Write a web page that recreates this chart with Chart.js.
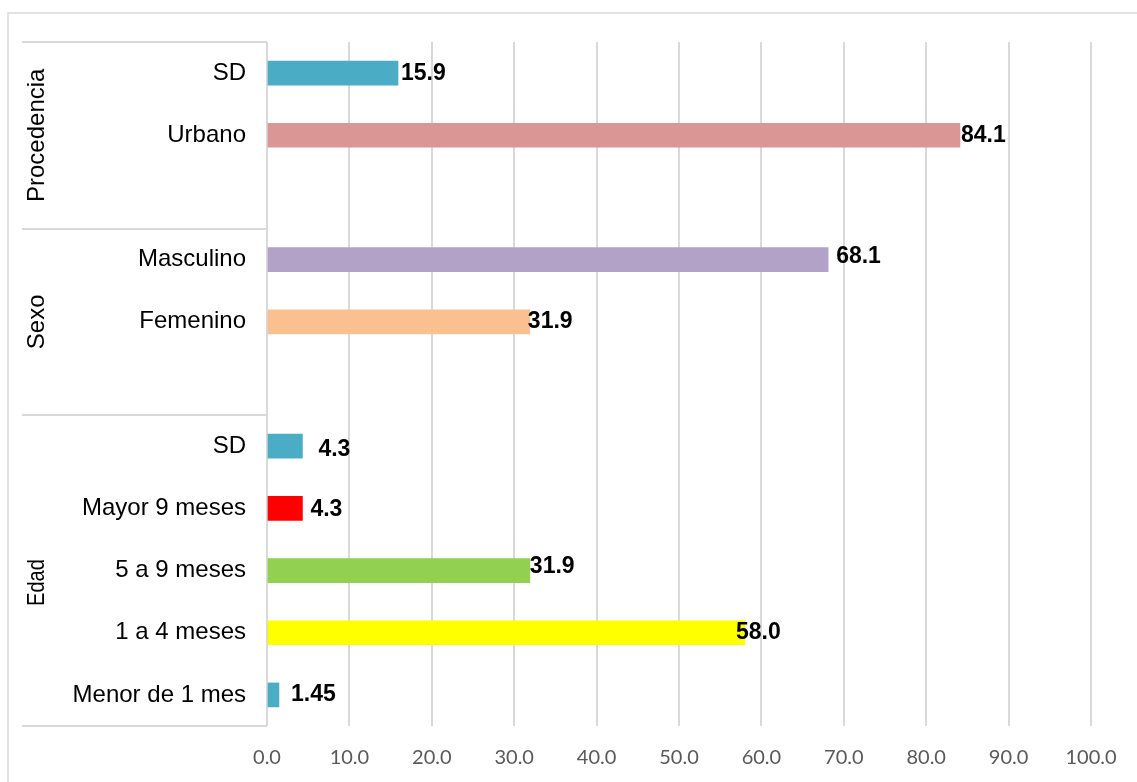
<!DOCTYPE html>
<html>
<head>
<meta charset="utf-8">
<title>Procedencia, Sexo y Edad</title>
<script src="https://cdn.jsdelivr.net/npm/chart.js@4/dist/chart.umd.min.js"></script>
<style>
  html, body { margin: 0; padding: 0; background: #ffffff; }
  #wrap { width: 1137px; height: 782px; position: relative; }
</style>
</head>
<body>
<div id="wrap"><canvas id="chart" width="1137" height="782"></canvas></div>
<script>
// Row labels, top to bottom (empty rows separate the groups)
const categories = [
  'SD', 'Urbano', '',
  'Masculino', 'Femenino', '',
  'SD', 'Mayor 9 meses', '5 a 9 meses', '1 a 4 meses', 'Menor de 1 mes'
];
// Percentages per row
const values = [15.9, 84.1, null, 68.1, 31.9, null, 4.3, 4.3, 31.9, 58.0, 1.45];
// Text shown next to each bar
const valueLabels = ['15.9', '84.1', '', '68.1', '31.9', '', '4.3', '4.3', '31.9', '58.0', '1.45'];
// Group names and the row ranges they span
const groupNames = ['Procedencia', 'Sexo', 'Edad'];
const groupFirstRow = [0, 3, 6];
const groupLastRow = [2, 5, 10];
// X axis ticks
const xTicks = [0, 10, 20, 30, 40, 50, 60, 70, 80, 90, 100];

// Styling
const barColors = ['#4bacc6', '#d99694', '#ffffff', '#b3a2c7', '#fac090', '#ffffff',
                   '#4bacc6', '#ff0000', '#92d050', '#ffff00', '#4bacc6'];
const labelDx = [3, 1, 0, 8, -2, 0, 16, 8, 0, -9, 12];
const labelDy = [1, 0, 0, -3, 0, 0, 3, 1, -4, 0, 0];
const lineGray = '#d9d9d9';

// Value labels at the end of each bar
const valueLabelPlugin = {
  id: 'valueLabels',
  afterDatasetsDraw(chart) {
    const ctx = chart.ctx;
    const meta = chart.getDatasetMeta(0);
    ctx.save();
    ctx.font = 'bold 23px "Liberation Sans", Arial, sans-serif';
    ctx.fillStyle = '#000000';
    ctx.textAlign = 'left';
    ctx.textBaseline = 'middle';
    meta.data.forEach((bar, i) => {
      if (values[i] === null || !valueLabels[i]) return;
      ctx.fillText(valueLabels[i], bar.x + labelDx[i], bar.y + labelDy[i]);
    });
    ctx.restore();
  }
};

// Frame, group separators and rotated group names on the left
const groupPlugin = {
  id: 'groups',
  beforeDraw(chart) {
    const ctx = chart.ctx;
    ctx.save();
    ctx.strokeStyle = lineGray;
    ctx.lineWidth = 1.5;
    ctx.beginPath();
    ctx.moveTo(8, 782);
    ctx.lineTo(8, 13);
    ctx.lineTo(1137, 13);
    ctx.stroke();
    ctx.restore();
  },
  afterDraw(chart) {
    const ctx = chart.ctx;
    const y = chart.scales.y;
    const area = chart.chartArea;
    const half = (y.getPixelForValue(1) - y.getPixelForValue(0)) / 2;
    ctx.save();
    ctx.strokeStyle = lineGray;
    ctx.lineWidth = 2;
    const bounds = [area.top];
    groupLastRow.forEach((r, g) => {
      bounds.push(g === groupLastRow.length - 1 ? area.bottom : y.getPixelForValue(r) + half);
    });
    ctx.beginPath();
    bounds.forEach(b => {
      const yy = Math.round(b);
      ctx.moveTo(22, yy);
      ctx.lineTo(area.left, yy);
    });
    ctx.stroke();

    ctx.fillStyle = '#000000';
    ctx.font = '24px "Liberation Sans", Arial, sans-serif';
    ctx.textAlign = 'center';
    ctx.textBaseline = 'middle';
    groupNames.forEach((name, g) => {
      const top = y.getPixelForValue(groupFirstRow[g]) - half;
      const bottom = y.getPixelForValue(groupLastRow[g]) + half;
      let cy = (top + bottom) / 2;
      if (name === 'Edad') cy += 12;
      ctx.save();
      ctx.translate(37, cy);
      ctx.rotate(-Math.PI / 2);
      if (name === 'Edad') ctx.fillText(name, 0, 0, 47);
      else ctx.fillText(name, 0, 0);
      ctx.restore();
    });
    ctx.restore();
  }
};

new Chart(document.getElementById('chart'), {
  type: 'bar',
  data: {
    labels: categories,
    datasets: [{
      data: values,
      backgroundColor: barColors,
      borderWidth: 0,
      barThickness: 24
    }]
  },
  options: {
    indexAxis: 'y',
    responsive: false,
    devicePixelRatio: 1,
    animation: false,
    layout: { padding: { top: 42, right: 46, left: 0, bottom: 0 } },
    plugins: {
      legend: { display: false },
      tooltip: { enabled: false }
    },
    scales: {
      x: {
        type: 'linear',
        min: 0,
        max: 100,
        afterBuildTicks(scale) {
          scale.ticks = xTicks.map(v => ({ value: v }));
        },
        afterFit(scale) { scale.height = 56; },
        grid: { color: lineGray, lineWidth: 2, drawTicks: false },
        border: { display: false },
        ticks: {
          padding: 20,
          color: '#595959',
          font: { family: 'Lato, "Open Sans", sans-serif', size: 20 },
          callback: v => Number(v).toFixed(1)
        }
      },
      y: {
        type: 'category',
        afterFit(scale) { scale.width = 267; },
        grid: { display: false, drawTicks: false },
        border: { display: false },
        ticks: {
          padding: 21,
          color: '#000000',
          autoSkip: false,
          font: { family: '"Liberation Sans", Arial, sans-serif', size: 24 }
        }
      }
    }
  },
  plugins: [valueLabelPlugin, groupPlugin]
});
</script>
</body>
</html>
